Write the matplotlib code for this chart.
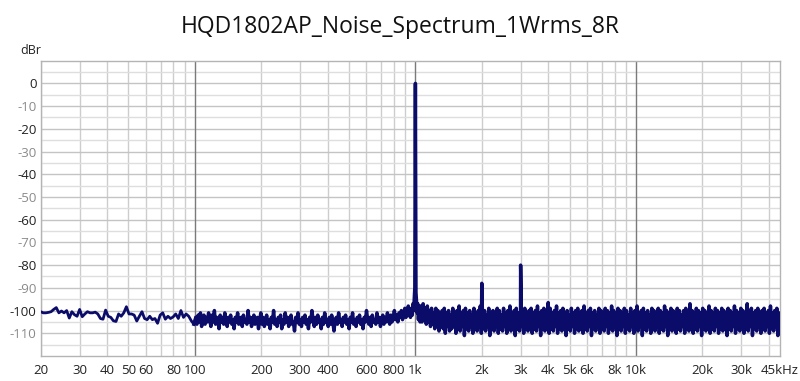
import numpy as np
import matplotlib
matplotlib.use("Agg")
import matplotlib.pyplot as plt

# ---------------- data ----------------
title = "HQD1802AP_Noise_Spectrum_1Wrms_8R"
y_unit = "dBr"
x_tick_values = [20, 30, 40, 50, 60, 80, 100, 200, 300, 400, 600, 800, 1000,
                 2000, 3000, 4000, 5000, 6000, 8000, 10000, 20000, 30000, 45000]
x_tick_labels = ["20", "30", "40", "50", "60", "80", "100", "200", "300", "400",
                 "600", "800", "1k", "2k", "3k", "4k", "5k", "6k", "8k", "10k",
                 "20k", "30k", "45kHz"]
y_tick_values = [-110, -100, -90, -80, -70, -60, -50, -40, -30, -20, -10, 0]

# 20 Hz .. 100 Hz trace
low_db = [-100.5, -101, -101, -100.8, -100.5, -99.5, -98.7, -101, -100.2, -101,
          -100, -103.3, -100.5, -101.8, -102.5, -99.5, -102.7, -101.5, -100.5, -101,
          -101, -100.7, -101.5, -103.5, -103.8, -99.8, -102.5, -103, -104.5, -104.8,
          -101.5, -102.5, -101, -98.3, -101.5, -101.5, -102, -104.6, -102.5, -100.5,
          -103.5, -104, -102.5, -104, -103.5, -105.6, -102, -101, -103.8, -102.5,
          -103.5, -102.8, -101.5, -103.5, -100, -103, -101.5, -102.5, -104.5, -106]

# 100 Hz .. 940 Hz trace
mid_db = [-103, -106, -102, -105, -101, -107, -104, -102, -106, -103,
          -105, -101, -104, -107, -102, -105, -100, -106, -103, -104,
          -108, -102, -105, -103, -106, -101, -104, -107, -103, -105,
          -102, -106, -104, -108, -103, -105, -101, -106, -104, -103,
          -107, -102, -105, -104, -106, -100, -105, -103, -107, -104,
          -102, -106, -105, -103, -108,
          -104, -101, -106, -103, -107, -105, -102, -106, -104, -108,
          -103, -105, -100, -106, -104, -107, -103, -105, -102, -108,
          -104, -106, -101, -105, -103, -107, -104, -102, -106, -105,
          -109, -103, -105, -101, -106, -104, -107, -103, -105, -102,
          -106, -104, -108, -103, -105, -100, -104, -107, -103, -106,
          -102, -105, -104, -108, -103, -106, -101, -105, -104, -107,
          -103, -106, -102, -105, -109, -104, -103, -106, -101, -105,
          -104, -107, -103, -105, -102,
          -106, -104, -108, -103, -105, -101, -106, -104, -107, -103,
          -105, -102, -106, -104, -108, -103, -105, -100, -104, -106,
          -103, -107, -102, -105, -104, -106, -101, -105, -103, -107,
          -104, -102, -106, -103, -105, -101, -104, -106, -102, -105,
          -103, -100, -104, -102, -105, -101, -103, -100, -104, -102,
          -99, -103, -101, -98, -102]

# fundamental region
peak_freq = [950, 960, 968, 975, 982, 988, 994, 1000, 1006, 1012, 1018, 1025, 1032, 1040, 1050]
peak_db = [-103, -99, -102, -97, -100, -95, -90, 0, -92, -96, -101, -97, -104, -98, -105]

# 1.06 kHz .. 45 kHz noise floor
high_db = [-98, -105, -97, -104, -99, -106, -98, -105, -100, -107,
           -99, -106, -101, -108, -99, -107, -100, -109, -101, -107,
           -100, -108, -99, -110, -101, -107, -100, -109, -102, -108,
           -99, -107, -101, -110, -100, -108, -98, -109, -101, -107,
           -100, -111, -99, -108, -101, -109, -100, -107, -102, -110,
           -99, -108, -101, -109, -100, -107, -98, -110, -101, -108,
           -100, -109, -102, -107, -99, -111, -101, -108, -100, -109,
           -101, -107, -99, -110, -100, -108, -102, -109, -99, -107,
           -101, -110, -100, -108, -98, -109, -101, -107, -100, -111,
           -99, -108, -101, -109, -100, -107, -102, -110, -99, -108,
           -101, -109, -100, -107, -99, -110, -101, -108, -100, -109,
           -98, -107, -101, -111, -100, -108, -99, -109, -102, -107,
           -100, -110, -99, -108, -101, -109, -100, -107, -98, -110,
           -101, -108, -100, -109, -99, -107, -101, -111, -100, -108,
           -102, -109, -99, -107, -101, -110, -100, -108, -99, -109,
           -101, -107, -100, -110, -98, -108, -101, -109, -100, -107,
           -99, -111, -101, -108, -100, -109, -102, -107, -99, -110,
           -100, -108, -101, -109, -99, -107, -100, -110, -101, -108,
           -98, -109, -100, -107, -101, -111, -99, -108, -100, -109,
           -101, -107, -99, -110, -100, -108, -102, -109, -99, -107,
           -101, -110, -100, -108, -98, -109, -101, -107, -100, -111,
           -99, -108, -101, -109, -100, -107, -102, -110, -99, -108,
           -100, -109, -101, -107, -99, -110, -100, -108, -101, -109,
           -98, -107, -100, -111, -101, -108, -99, -109, -100, -107,
           -101, -110, -99, -108, -100, -109, -102, -107, -100, -110,
           -99, -108, -101, -109, -97, -107, -100, -110, -101, -108,
           -99, -109, -100, -107, -101, -111, -99, -108, -100, -109,
           -101, -107, -98, -110, -100, -108, -101, -109, -99, -107,
           -100, -110, -101, -108, -99, -109, -100, -107, -102, -111,
           -99, -108, -100, -109, -101, -107, -98, -110, -100, -108,
           -101, -109, -99, -107, -100, -110, -101, -108, -97, -109,
           -100, -107, -99, -111, -101, -108, -100, -109, -99, -107,
           -101, -110, -100, -108, -99, -109, -101, -107, -100, -110,
           -98, -108, -101, -109, -100, -107, -99, -111, -101, -108]

# harmonics
harm_freq = [2000, 3000, 4000]
harm_db = [-88, -80, -96.5]

# --------------- assemble ---------------
low_f = np.geomspace(20, 99, len(low_db))
mid_f = np.geomspace(101, 940, len(mid_db))
high_f = np.geomspace(1060, 45000, len(high_db))
freq = np.concatenate([low_f, mid_f, peak_freq, high_f, harm_freq])
level = np.concatenate([low_db, mid_db, peak_db, high_db, harm_db])
order = np.argsort(freq, kind="stable")
freq, level = freq[order], level[order]

# --------------- plot ---------------
plt.rcParams['font.family'] = ['Open Sans', 'DejaVu Sans']
fig = plt.figure(figsize=(8, 3.81), dpi=100)
ax = fig.add_axes([40.7 / 800, 1 - 356 / 381, (780 - 40.7) / 800, (356 - 60.7) / 381])

ax.set_xscale('log')
ax.set_xlim(20, 45000)
ax.set_ylim(-120, 10)

# grid
grid_x = [20, 30, 40, 50, 60, 70, 80, 90,
          200, 300, 400, 500, 600, 700, 800, 900,
          2000, 3000, 4000, 5000, 6000, 7000, 8000, 9000,
          20000, 30000, 40000]
decade_x = [100, 1000, 10000]
for gx in grid_x:
    ax.axvline(gx, color='#cdcdcd', lw=1.0, zorder=0)
for gx in decade_x:
    ax.axvline(gx, color='#7a7a7a', lw=1.0, zorder=1)
for gy in range(-115, 10, 5):
    ax.axhline(gy, color='#c4c4c4' if gy % 10 == 0 else '#dedede', lw=1.0, zorder=0)

trace_color = '#0b0b6a'
sparse = freq <= 101
dense = freq >= 99
ax.plot(freq[sparse], level[sparse], color=trace_color, lw=2.0, zorder=3)
ax.plot(freq[dense], level[dense], color=trace_color, lw=2.5, zorder=3)

ax.set_xticks(x_tick_values)
ax.set_xticklabels(x_tick_labels)
ax.xaxis.set_minor_locator(matplotlib.ticker.NullLocator())
ax.set_yticks(y_tick_values)
ax.set_yticklabels([str(v) for v in y_tick_values])
ax.tick_params(axis='both', length=0, labelsize=9.5)
ax.tick_params(axis='x', pad=6, labelcolor='#222222')
ax.tick_params(axis='y', pad=3)
for v, lab in zip(y_tick_values, ax.get_yticklabels()):
    lab.set_color('#222222' if v % 20 == 0 else '#8a8a8a')

for s in ax.spines.values():
    s.set_color('#b4b4b4')
    s.set_linewidth(1.0)

fig.text(0.5, 1 - 33 / 381, title, ha='center', va='baseline', fontsize=16.5, color='#111111')
fig.text(20.5 / 800, 1 - 51 / 381, y_unit, ha='left', va='center', fontsize=9, color='#222222')

fig.savefig('out.png', dpi=100, facecolor='white')
